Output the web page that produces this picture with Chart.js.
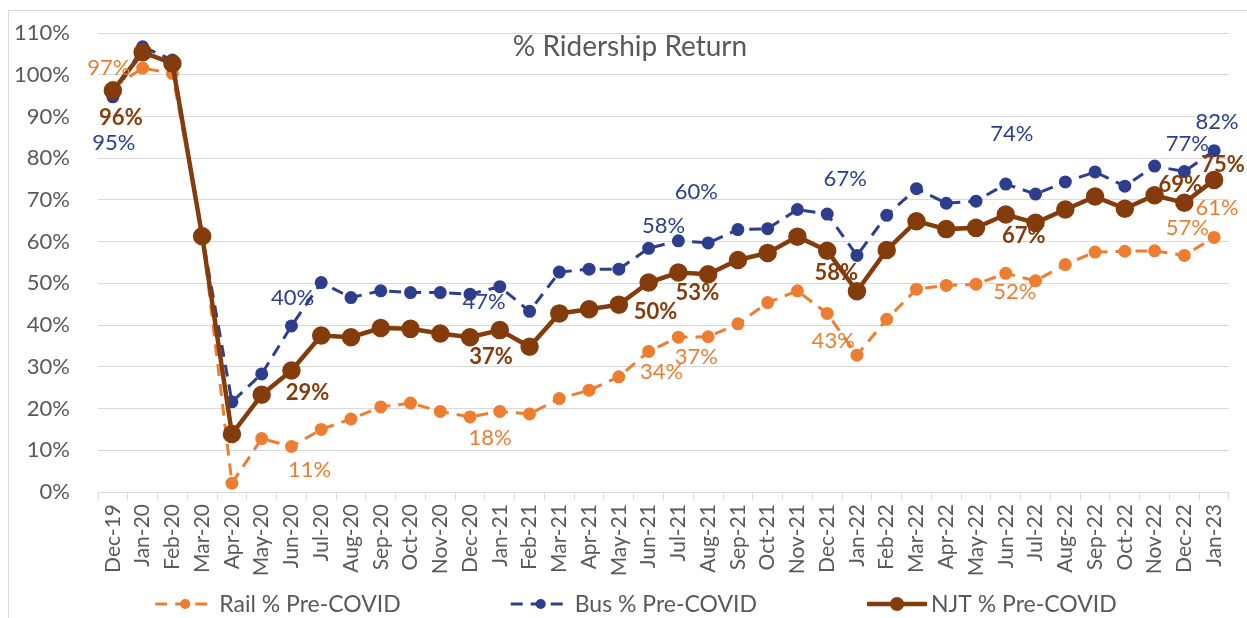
<!DOCTYPE html>
<html>
<head>
<meta charset="utf-8">
<title>% Ridership Return</title>
<script src="https://cdn.jsdelivr.net/npm/chart.js@4.4.0/dist/chart.umd.min.js"></script>
<style>
    html, body { margin: 0; padding: 0; background: #fff; }
    #wrap { width: 1247px; height: 618px; position: relative; }
</style>
</head>
<body>
<div id="wrap"><canvas id="ridershipChart"></canvas></div>
<script>
// Months on the x axis
const months = ['Dec-19', 'Jan-20', 'Feb-20', 'Mar-20', 'Apr-20', 'May-20', 'Jun-20', 'Jul-20',
    'Aug-20', 'Sep-20', 'Oct-20', 'Nov-20', 'Dec-20', 'Jan-21', 'Feb-21', 'Mar-21', 'Apr-21',
    'May-21', 'Jun-21', 'Jul-21', 'Aug-21', 'Sep-21', 'Oct-21', 'Nov-21', 'Dec-21', 'Jan-22',
    'Feb-22', 'Mar-22', 'Apr-22', 'May-22', 'Jun-22', 'Jul-22', 'Aug-22', 'Sep-22', 'Oct-22',
    'Nov-22', 'Dec-22', 'Jan-23'];

// % of pre-COVID ridership
const railPct = [97, 101.6, 100.3, 62, 2.1, 12.8, 10.9, 15.0, 17.5, 20.4, 21.3, 19.3, 18.0, 19.3,
    18.7, 22.4, 24.4, 27.6, 33.7, 37.1, 37.2, 40.3, 45.4, 48.2, 42.8, 32.8, 41.4, 48.6, 49.5,
    49.8, 52.4, 50.6, 54.5, 57.5, 57.7, 57.8, 56.7, 61.0];
const busPct = [94.7, 106.7, 103.5, 61.5, 21.6, 28.3, 39.8, 50.2, 46.6, 48.2, 47.8, 47.8, 47.4,
    49.2, 43.3, 52.7, 53.4, 53.4, 58.4, 60.2, 59.7, 62.9, 63.1, 67.7, 66.6, 56.7, 66.3, 72.7,
    69.2, 69.7, 73.8, 71.4, 74.3, 76.7, 73.3, 78.1, 76.8, 81.8];
const njtPct = [96.2, 105.4, 102.7, 61.3, 13.9, 23.3, 29.1, 37.5, 37.1, 39.3, 39.1, 38.0, 37.1,
    38.8, 34.8, 42.8, 43.8, 44.9, 50.2, 52.6, 52.2, 55.6, 57.3, 61.2, 57.8, 48.1, 58.0, 64.9,
    63.0, 63.3, 66.5, 64.5, 67.7, 70.8, 67.9, 71.1, 69.3, 74.8];

// Y axis ticks (percent)
const yTicks = [0, 10, 20, 30, 40, 50, 60, 70, 80, 90, 100, 110];

// Months that carry a value label (same for all three series)
const labelledMonths = ['Dec-19', 'Jun-20', 'Dec-20', 'Jun-21', 'Jul-21', 'Dec-21', 'Jun-22', 'Dec-22', 'Jan-23'];

// Where each value label sits relative to its point [dx, dy], per series
const labelOffsets = {
    rail: [[-4, -19], [18, 23], [20, 21], [13, 21], [18, 20], [6, 27], [9, 19], [3, -28], [3, -30]],
    bus:  [[1, 46], [1, -28], [14, 8], [15, -22], [18, -49], [18, -35], [6, -50], [3, -28], [3, -29]],
    njt:  [[8, 27], [16, 22], [21, 20], [7, 29], [19, 20], [9, 22], [18, 21], [-4, -18], [9, -15]]
};

const FONT = 'Lato, "Open Sans", sans-serif';
const GREY = '#595959';
const GRID = '#D9D9D9';

// Chart frame, title, value labels and legend drawn by hand to look like the Excel original
const chartDecor = {
    id: 'chartDecor',
    beforeDraw(chart) {
        const ctx = chart.ctx;
        ctx.save();
        ctx.fillStyle = '#fff';
        ctx.fillRect(0, 0, chart.width, chart.height);
        ctx.strokeStyle = GRID;
        ctx.lineWidth = 1;
        ctx.strokeRect(8.5, 10.5, chart.width + 10, chart.height + 10);
        ctx.restore();
    },
    afterDatasetsDraw(chart) {
        const ctx = chart.ctx;
        ctx.save();
        ctx.textAlign = 'center';
        ctx.textBaseline = 'middle';
        chart.data.datasets.forEach((ds, di) => {
            const meta = chart.getDatasetMeta(di);
            ctx.font = (ds.key === 'njt' ? 'bold ' : '') + '22px ' + FONT;
            ctx.fillStyle = ds.borderColor;
            labelledMonths.forEach((m, k) => {
                const i = months.indexOf(m);
                const pt = meta.data[i];
                const off = labelOffsets[ds.key][k];
                ctx.fillText(Math.round(ds.data[i]) + '%', pt.x + off[0], pt.y + off[1]);
            });
        });

        // title
        ctx.font = '28px ' + FONT;
        ctx.fillStyle = GREY;
        ctx.textBaseline = 'alphabetic';
        ctx.fillText('% Ridership Return', 630, 56);

        // legend
        ctx.font = '23px ' + FONT;
        const sample = 60, gap = 4, between = 110;
        const items = chart.data.datasets.map(ds => ({ ds, w: sample + gap + ctx.measureText(ds.label).width }));
        const total = items.reduce((s, it) => s + it.w, 0) + between * (items.length - 1);
        let x = 636 - total / 2;
        const y = 604;
        items.forEach(it => {
            const ds = it.ds;
            ctx.strokeStyle = ds.borderColor;
            ctx.lineWidth = ds.borderWidth;
            ctx.setLineDash(ds.borderDash || []);
            ctx.beginPath();
            ctx.moveTo(x, y);
            ctx.lineTo(x + sample, y);
            ctx.stroke();
            ctx.setLineDash([]);
            ctx.fillStyle = ds.borderColor;
            ctx.beginPath();
            ctx.arc(x + sample / 2, y, ds.pointRadius, 0, Math.PI * 2);
            ctx.fill();
            ctx.fillStyle = GREY;
            ctx.textAlign = 'left';
            ctx.textBaseline = 'middle';
            ctx.fillText(ds.label, x + sample + gap, y + 1);
            x += it.w + between;
        });
        ctx.restore();
    }
};

const ctx = document.getElementById('ridershipChart').getContext('2d');
window.ridershipChart = new Chart(ctx, {
    type: 'line',
    data: {
        labels: months,
        datasets: [{
            key: 'rail',
            label: 'Rail % Pre-COVID',
            data: railPct,
            borderColor: '#ED7D31',
            backgroundColor: '#ED7D31',
            pointBackgroundColor: '#ED7D31',
            pointBorderColor: '#ED7D31',
            borderWidth: 3,
            borderDash: [12, 8],
            pointRadius: 5,
            order: 2
        }, {
            key: 'bus',
            label: 'Bus % Pre-COVID',
            data: busPct,
            borderColor: '#2C3E8C',
            backgroundColor: '#2C3E8C',
            pointBackgroundColor: '#2C3E8C',
            pointBorderColor: '#2C3E8C',
            borderWidth: 3,
            borderDash: [12, 8],
            pointRadius: 5,
            order: 1
        }, {
            key: 'njt',
            label: 'NJT % Pre-COVID',
            data: njtPct,
            borderColor: '#843C0C',
            backgroundColor: '#843C0C',
            pointBackgroundColor: '#843C0C',
            pointBorderColor: '#843C0C',
            borderWidth: 4.5,
            pointRadius: 7,
            order: 0
        }]
    },
    options: {
        responsive: true,
        maintainAspectRatio: false,
        animation: false,
        layout: { padding: { left: 0, right: 18, top: 33, bottom: 0 } },
        plugins: {
            legend: { display: false },
            title: { display: false },
            tooltip: { enabled: false }
        },
        elements: { line: { tension: 0 } },
        scales: {
            x: {
                offset: true,
                grid: { offset: true, drawOnChartArea: false, drawTicks: true, tickLength: 8, color: GRID },
                border: { color: GRID, width: 1 },
                ticks: {
                    autoSkip: false, minRotation: 90, maxRotation: 90, padding: 4,
                    color: GREY, font: { family: FONT, size: 21 }
                },
                afterFit(scale) { scale.height = 126; }
            },
            y: {
                min: yTicks[0],
                max: yTicks[yTicks.length - 1],
                afterBuildTicks(scale) { scale.ticks = yTicks.map(v => ({ value: v })); },
                grid: { color: GRID, drawTicks: false },
                border: { display: false },
                ticks: {
                    padding: 28, color: GREY, font: { family: FONT, size: 22 },
                    callback: v => v + '%'
                },
                afterFit(scale) {
                    scale.width = 98;
                    // the big tick padding should not push the plot area down
                    scale.paddingTop = 14;
                    scale.paddingBottom = 14;
                }
            }
        }
    },
    plugins: [chartDecor]
});
</script>
</body>
</html>
